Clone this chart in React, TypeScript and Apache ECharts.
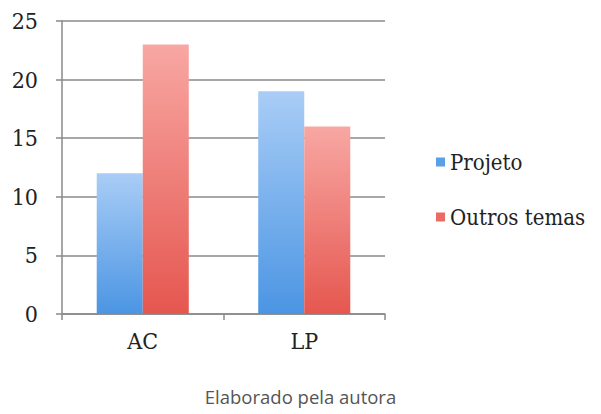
import React, { useEffect, useRef } from "react";
import * as echarts from "echarts";

const categories = ["AC", "LP"];
const projeto = [12, 19];
const outrosTemas = [23, 16];
const seriesNames = ["Projeto", "Outros temas"];
const caption = "Elaborado pela autora";

const blueFill = new echarts.graphic.LinearGradient(0, 0, 0, 1, [
  { offset: 0, color: "#a9cdf6" },
  { offset: 1, color: "#4b95e3" },
]);
const redFill = new echarts.graphic.LinearGradient(0, 0, 0, 1, [
  { offset: 0, color: "#f8a7a3" },
  { offset: 1, color: "#e5574f" },
]);

const serif = "DejaVu Serif Condensed, Liberation Serif, serif";
const labelText = { fontFamily: serif, fontSize: 23, color: "#222" };

export default function App() {
  const ref = useRef<HTMLDivElement>(null);

  useEffect(() => {
    if (!ref.current) return;
    const chart = echarts.init(ref.current, null, { renderer: "svg" });
    chart.setOption({
      animation: false,
      backgroundColor: "#ffffff",
      textStyle: { fontFamily: serif },
      grid: { left: 62, top: 21, right: 216, bottom: 100 },
      legend: {
        orient: "vertical",
        left: 431,
        top: 146,
        itemGap: 33,
        itemWidth: 9,
        itemHeight: 9,
        icon: "rect",
        textStyle: { fontFamily: serif, fontSize: 22, color: "#222" },
        data: [
          { name: seriesNames[0], itemStyle: { color: "#5b9fe6" } },
          { name: seriesNames[1], itemStyle: { color: "#ea6b64" } },
        ],
      },
      xAxis: {
        type: "category",
        data: categories,
        axisLine: { lineStyle: { color: "#8a8a8a", width: 1.5 } },
        axisTick: { show: true, length: 6, lineStyle: { color: "#8a8a8a", width: 1.5 } },
        axisLabel: { ...labelText, margin: 15 },
      },
      yAxis: {
        type: "value",
        min: 0,
        max: 25,
        interval: 5,
        axisLine: { show: true, lineStyle: { color: "#8a8a8a", width: 1.5 } },
        axisTick: { show: true, length: 6, lineStyle: { color: "#8a8a8a", width: 1.5 } },
        splitLine: { lineStyle: { color: "#8a8a8a", width: 1.5 } },
        axisLabel: { ...labelText, margin: 24 },
      },
      series: [
        {
          name: seriesNames[0],
          type: "bar",
          data: projeto,
          barGap: "0%",
          barCategoryGap: "43%",
          itemStyle: { color: blueFill },
        },
        {
          name: seriesNames[1],
          type: "bar",
          data: outrosTemas,
          itemStyle: { color: redFill },
        },
      ],
      graphic: [
        {
          type: "text",
          left: "center",
          top: 387,
          style: {
            text: caption,
            fontFamily: "Open Sans, sans-serif",
            fontSize: 18.5,
            fill: "#555555",
          },
        },
      ],
    });
    return () => chart.dispose();
  }, []);

  return (
    <div
      ref={ref}
      style={{ position: "fixed", left: 0, top: 0, width: 601, height: 414 }}
    />
  );
}
